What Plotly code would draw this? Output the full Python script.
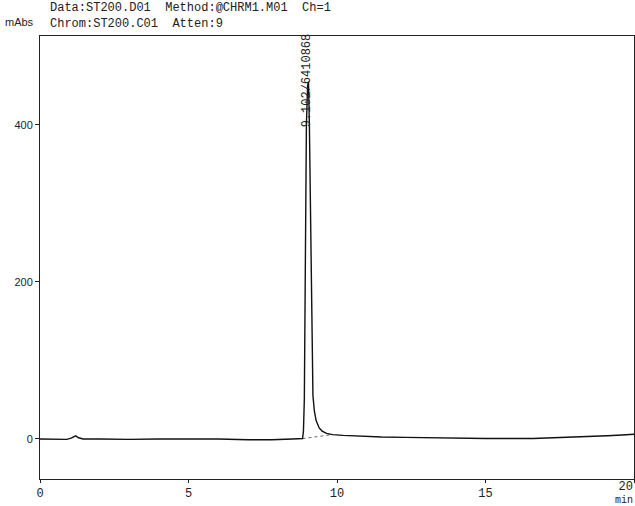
import plotly.graph_objects as go

# Chromatogram trace (time in min, signal in mAbs)
time_min = [0.0, 0.5, 0.9, 1.05, 1.2, 1.3, 1.45, 2.0, 3.0, 4.0, 5.0, 6.0, 7.0, 7.8, 8.5,
            8.84, 8.87, 8.90, 8.93, 8.95, 8.97, 9.01, 9.04, 9.07, 9.10, 9.12, 9.14, 9.16,
            9.19, 9.24, 9.30, 9.40, 9.50, 9.65, 9.85, 10.2, 10.9, 11.5, 12.3, 13.5, 15.0,
            16.6, 17.5, 18.5, 19.1, 19.6, 20.0]
signal_mabs = [0, -0.5, -0.5, 1, 4, 1.5, 0, 0, -0.5, 0, 0, 0, -1, -1, 0,
               0.5, 10, 50, 200, 300, 400, 450, 455, 400, 320, 260, 170, 100,
               55, 35, 23, 14, 10, 7, 5.5, 4.5, 3, 2.5, 2, 1, 0.5,
               0.5, 1.5, 3, 4, 5, 6]

# Integration baseline under the peak
baseline_time = [8.84, 9.85]
baseline_mabs = [0.5, 5.5]

peak_label = "9.102/6410868"
peak_label_time = 9.02
peak_label_mabs = 394

x_ticks = [0, 5, 10, 15, 20]
x_tick_labels = ["0", "5", "10", "15", "20"]
y_ticks = [0, 200, 400]

header_line1 = "Data:ST200.D01  Method:@CHRM1.M01  Ch=1"
header_line2 = "Chrom:ST200.C01  Atten:9"
y_unit = "mAbs"
x_unit = "min"

mono = "Liberation Mono"

fig = go.Figure()
fig.add_trace(go.Scatter(x=baseline_time, y=baseline_mabs, mode="lines",
                         line=dict(color="#444", width=0.8, dash="dot"),
                         hoverinfo="skip", showlegend=False))
fig.add_trace(go.Scatter(x=time_min, y=signal_mabs, mode="lines",
                         line=dict(color="#111", width=1.4),
                         showlegend=False))

fig.add_annotation(x=peak_label_time, y=peak_label_mabs, xref="x", yref="y",
                   text=peak_label, textangle=-90, showarrow=False,
                   xanchor="center", yanchor="bottom",
                   font=dict(family=mono, size=12, color="#222"))

fig.add_annotation(x=0.015, y=1.045, xref="paper", yref="paper",
                   text=header_line1 + "<br>" + header_line2, align="left",
                   showarrow=False, xanchor="left", yanchor="middle", borderpad=0,
                   font=dict(family=mono, size=12, color="#222"))
fig.add_annotation(x=-0.061, y=1.032, xref="paper", yref="paper", text=y_unit,
                   showarrow=False, xanchor="left", yanchor="middle", borderpad=0,
                   font=dict(family="Liberation Sans", size=11, color="#222"))
# last tick label sits flush against the right edge, with the axis unit below it
fig.add_annotation(x=x_ticks[-1], y=0.0, xref="x", yref="paper",
                   text="<span style='font-size:12px'>" + x_tick_labels[-1]
                   + "</span><br>" + x_unit,
                   showarrow=False, borderpad=0, align="right",
                   xanchor="right", yanchor="top",
                   font=dict(family=mono, size=10, color="#222"))

fig.update_layout(
    width=635, height=506,
    margin=dict(l=40, r=1, t=36, b=27, autoexpand=False),
    paper_bgcolor="white", plot_bgcolor="white",
    xaxis=dict(range=[0, 20], tickvals=x_ticks,
               ticktext=x_tick_labels[:-1] + [""],
               showgrid=False, zeroline=False,
               showline=True, linecolor="#222", linewidth=1, mirror=True,
               ticks="outside", ticklen=3, tickcolor="#222", automargin=False,
               tickfont=dict(family=mono, size=12, color="#222")),
    yaxis=dict(range=[-51, 513], tickvals=y_ticks, showgrid=False, zeroline=False,
               showline=True, linecolor="#222", linewidth=1, mirror=True,
               ticks="outside", ticklen=4, tickcolor="#222", automargin=False,
               tickfont=dict(family="Liberation Sans", size=11, color="#222")),
)

fig.write_html("out.html", config={"displayModeBar": False},
               post_script="document.body.style.margin='0';document.body.style.overflow='hidden';")
